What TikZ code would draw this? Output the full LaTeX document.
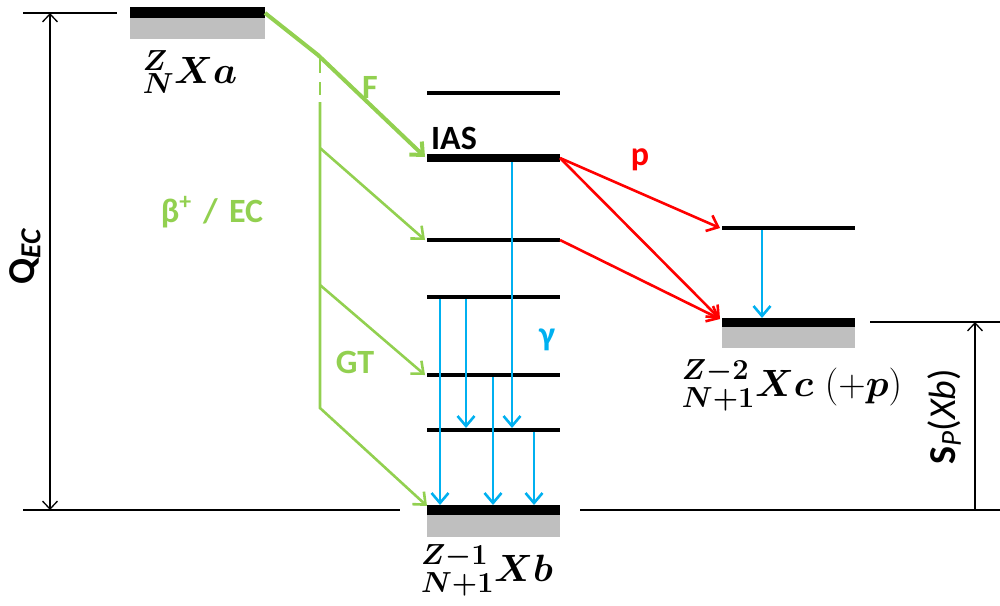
\RequirePackage{fix-cm}
\documentclass[tikz,border=0pt]{standalone}
\usepackage{amsmath,bm}
\usepackage{fontspec}
\setsansfont{Carlito}
\DeclareMathSizes{38}{38}{29}{22}
\usetikzlibrary{arrows.meta}
\definecolor{cgreen}{HTML}{92D050}
\definecolor{cblue}{HTML}{00B0F0}
\definecolor{cred}{HTML}{FF0000}
\definecolor{cgrey}{HTML}{BFBFBF}
\begin{document}
\begin{tikzpicture}[x=1pt,y=-1pt,
  lvl/.style={line width=4pt},
  dim/.style={line width=1.3pt},
  dimtip/.style={-{Straight Barb[length=8pt,width=15pt]}},
  gthin/.style={cgreen,line width=2.6pt,-{Straight Barb[length=10pt,width=17pt]}},
  gthick/.style={cgreen,line width=4pt,line join=round,-{Straight Barb[length=10pt,width=18pt]}},
  gline/.style={cgreen,line width=2.6pt},
  gam/.style={cblue,line width=2.6pt,-{Straight Barb[length=10pt,width=17pt]}},
  prot/.style={cred,line width=2.6pt,-{Straight Barb[length=10pt,width=17pt]}},
  lab/.style={font=\sffamily\bfseries\fontsize{34}{36}\selectfont},
  nuc/.style={font=\fontsize{38}{40}\selectfont},
]
\useasboundingbox (0,0) rectangle (1000,605);
% ground states
\fill[cgrey] (130,18) rectangle (265,39);
\fill[black] (130,7) rectangle (265,18);
\fill[cgrey] (427,515) rectangle (560,537);
\fill[black] (427,505) rectangle (560,515);
\fill[cgrey] (722,327) rectangle (855,348);
\fill[black] (722,318) rectangle (855,327);
% coordinates
\coordinate (xaR) at (265,13);
\coordinate (bend) at (318,55);
\coordinate (iasL) at (425,157);
\coordinate (iasR) at (560,158);
\coordinate (l3L) at (425,240);
\coordinate (l3R) at (560,240);
\coordinate (l5L) at (425,375);
\coordinate (gbL) at (427,506);
\coordinate (gcL) at (720,319);
\coordinate (c1L) at (720,228);
% excited levels Xb
\draw[lvl] (427,93) -- (560,93);
\draw[line width=8pt] (427,158) -- (560,158);
\draw[lvl] (427,240) -- (560,240);
\draw[lvl] (427,297) -- (560,297);
\draw[lvl] (427,375) -- (560,375);
\draw[lvl] (427,430) -- (560,430);
% Xc level
\draw[lvl] (722,228) -- (855,228);
% dimension lines
\draw[dim] (23,13) -- (117,13);
\draw[dim] (23,510) -- (400,510);
\draw[dim] (580,510) -- (1000,510);
\draw[dim] (870,322) -- (1000,322);
\coordinate (qT) at (50,13);
\coordinate (qB) at (50,510);
\draw[dim,{Straight Barb[length=8pt,width=15pt]}-{Straight Barb[length=8pt,width=15pt]}] (qT) -- (qB);
\coordinate (sT) at (975,322);
\coordinate (sB) at (975,510);
\draw[dim,dimtip] (sB) -- (sT);
% green beta/EC
\draw[gthick] (xaR) -- (bend) -- (iasL);
\coordinate (v0) at (320,58);
\coordinate (v1) at (320,73);
\coordinate (v2) at (320,82);
\coordinate (v3) at (320,95);
\coordinate (v4) at (320,102);
\coordinate (g1) at (320,148);
\coordinate (g2) at (320,285);
\coordinate (vB) at (320,408);
\draw[gline] (v0) -- (v1);
\draw[gline] (v2) -- (v3);
\draw[gthin] (v4) -- (vB) -- (gbL);
\draw[gthin] (g1) -- (l3L);
\draw[gthin] (g2) -- (l5L);
% gamma
\draw[gam] (512,162) -- (512,428);
\draw[gam] (440,299) -- (440,505);
\draw[gam] (466,299) -- (466,428);
\draw[gam] (493,377) -- (493,505);
\draw[gam] (534,432) -- (534,505);
\draw[gam] (762,230) -- (762,318);
% protons
\draw[prot] (iasR) -- (c1L);
\draw[prot] (iasR) -- (gcL);
\draw[prot] (l3R) -- (gcL);
% labels
\node[lab,text=cgreen] (tF) at (370,87) {F};
\node[lab] (tIAS) at (454,138) {IAS};
\node[lab,text=cgreen] (tbeta) at (212,212) {β\textsuperscript{+}\,\,/\,\,EC};
\node[lab,text=cgreen] (tGT) at (355,362) {GT};
\node[lab,text=cblue] (tgam) at (547,340) {γ};
\node[lab,text=cred] (tp) at (640,160) {p};
\node[font=\sffamily\bfseries\fontsize{38}{40}\selectfont,rotate=90] (tQ) at (25,256) {Q\textsubscript{\textit{EC}}};
\node[font=\sffamily\fontsize{38}{40}\selectfont,rotate=90] (tS) at (944,417) {\textbf{S}\textsubscript{\textit{P}}(\textit{Xb})};
\node[nuc] (na) at (190,72) {$\bm{{}^{Z}_{N}Xa}$};
\node[nuc] (nb) at (487,570) {$\bm{{}^{Z-1}_{N+1}Xb}$};
\node[nuc] (nc) at (792,385) {$\bm{{}^{Z-2}_{N+1}Xc}\ (+\bm{p})$};
\end{tikzpicture}
\end{document}
